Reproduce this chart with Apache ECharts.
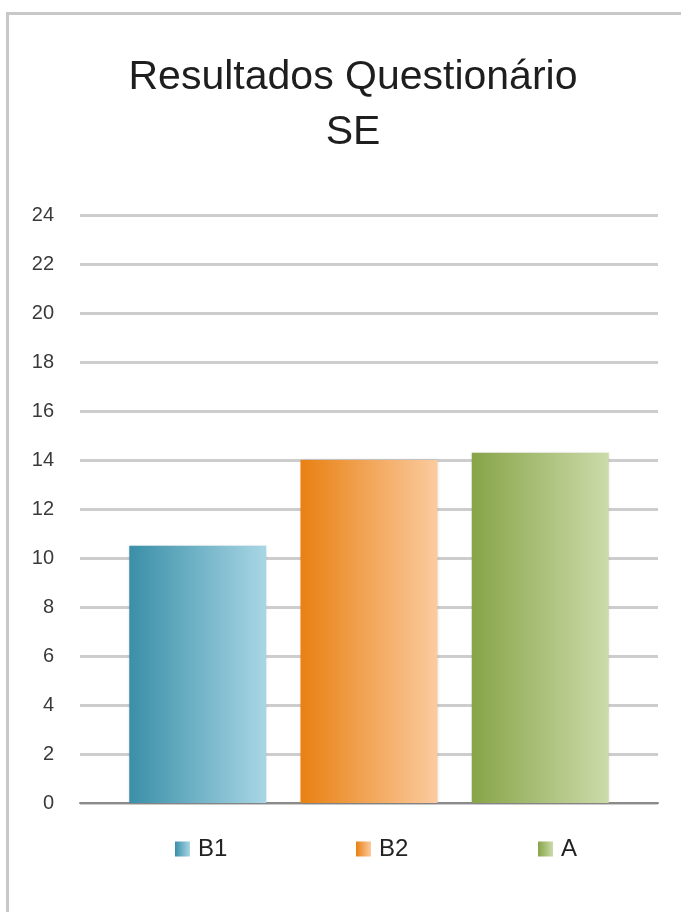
<!DOCTYPE html>
<html>
<head>
<meta charset="utf-8">
<script src="https://cdn.jsdelivr.net/npm/echarts@6/dist/echarts.min.js"></script>
<style>
html,body{margin:0;padding:0;background:#fff;}
#chart{width:681px;height:912px;}
</style>
</head>
<body>
<div id="chart"></div>
<script>
const titleText = 'Resultados Questionário\nSE';
const seriesNames = ['B1', 'B2', 'A'];
const seriesValues = [10.5, 14, 14.3];
const yTicks = { min: 0, max: 24, interval: 2 };
const gradients = [
  ['#3a8fa8', '#a8d6e5'],
  ['#e98012', '#fbcb9f'],
  ['#87a448', '#ccdbaa']
];
const legendLefts = [175, 356, 538];

const font = 'Liberation Sans, Arial, sans-serif';
const chart = echarts.init(document.getElementById('chart'), null, { renderer: 'canvas' });

function grad(c) {
  return new echarts.graphic.LinearGradient(0, 0, 1, 0, [
    { offset: 0, color: c[0] },
    { offset: 1, color: c[1] }
  ]);
}

const option = {
  backgroundColor: '#ffffff',
  animation: false,
  graphic: [{
    type: 'rect',
    shape: { x: 7.5, y: 13.5, width: 720, height: 960 },
    style: { fill: 'none', stroke: '#c8c8c8', lineWidth: 3 },
    z: -1
  }],
  title: {
    text: titleText,
    left: 348,
    textAlign: 'center',
    top: 45,
    textStyle: {
      fontFamily: font,
      fontSize: 41,
      fontWeight: 'normal',
      color: '#1e1e1e',
      lineHeight: 55
    }
  },
  legend: seriesNames.map((n, i) => ({
    data: [{ name: n, icon: 'rect' }],
    left: legendLefts[i],
    top: 837,
    itemWidth: 15,
    itemHeight: 15,
    itemGap: 0,
    textStyle: { fontFamily: font, fontSize: 24, color: '#222', padding: [0, 0, 0, 3] },
    padding: 0,
    selectedMode: false
  })),
  grid: { left: 80, right: 23, top: 215, bottom: 109, containLabel: false },
  xAxis: {
    type: 'category',
    data: [''],
    axisLine: { show: true, lineStyle: { color: '#8a8a8a', width: 2 } },
    axisTick: { show: false },
    axisLabel: { show: false }
  },
  yAxis: {
    type: 'value',
    min: yTicks.min,
    max: yTicks.max,
    interval: yTicks.interval,
    axisLine: { show: false },
    axisTick: { show: false },
    axisLabel: { fontFamily: font, fontSize: 20, color: '#3a3a3a', margin: 26 },
    splitLine: { lineStyle: { color: '#cdcdcd', width: 3 } }
  },
  series: seriesNames.map((n, i) => ({
    name: n,
    type: 'bar',
    data: [seriesValues[i]],
    barWidth: 137,
    barGap: '25%',
    itemStyle: {
      color: grad(gradients[i]),
      shadowBlur: 3,
      shadowColor: 'rgba(0,0,0,0.15)'
    }
  }))
};
chart.setOption(option);
</script>
</body>
</html>
